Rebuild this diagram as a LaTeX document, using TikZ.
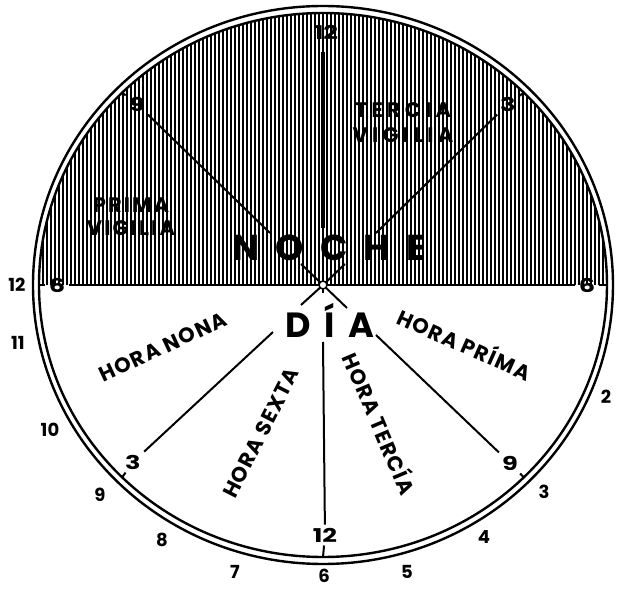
\documentclass[tikz,border=0pt]{standalone}
\usepackage{fontspec}
\setmainfont{Poppins}
\usepackage{tikz}
\usetikzlibrary{calc}

\newcommand{\widedig}[1]{\scalebox{1.35}[1]{#1}}

\begin{document}
\begin{tikzpicture}[
  x=0.5pt, y=0.5pt,
  rim/.style={line width=1.2pt},
  hatch/.style={line width=1.15pt},
  ray/.style={line width=1pt},
  bigray/.style={line width=1.7pt},
  hnum/.style={font=\fontsize{9}{9}\selectfont\bfseries, inner sep=0pt},
  dnum/.style={font=\fontsize{9.5}{9.5}\selectfont\bfseries, inner sep=1.5pt},
  hora/.style={font=\fontsize{10.5}{10.5}\selectfont\bfseries\addfontfeatures{LetterSpace=6}, inner sep=0pt},
  vigil/.style={font=\fontsize{10.5}{12.5}\selectfont\bfseries\addfontfeatures{LetterSpace=20}, align=center, inner sep=0pt},
  word/.style={font=\fontsize{16.5}{16.5}\selectfont\bfseries, inner sep=0pt},
  hub/.style={circle, draw, fill=white, line width=0.8pt, inner sep=0pt, minimum size=4pt}
]
\useasboundingbox (-323,-304) rectangle (300,285);

%% points on the inner rim
\coordinate (ctr) at (0,0);
\foreach \a in {0,45,90,135,180,225,270,315}
  \coordinate (e\a) at (\a:284 and 272);

%% night half: vertical hatching
\begin{scope}
  \clip (-284,0) arc[start angle=180, end angle=0, x radius=284, y radius=272] -- cycle;
  \foreach \hx in {-284,-280,...,284}
    \draw[hatch] (\hx,0) -- (\hx,276);
\end{scope}

%% inner hour marks
\node[dnum] (n12u) at (3,253) {\widedig{12}};
\node[dnum] (n9u) at (-186,181) {\widedig{9}};
\node[dnum] (n3u) at (185,181) {\widedig{3}};
\node[dnum] (n6l) at (-266,0) {\widedig{6}};
\node[dnum] (n6r) at (264,0) {\widedig{6}};
\node[dnum] (n3l) at (-190,-177) {\widedig{3}};
\node[dnum] (n9l) at (187,-178) {\widedig{9}};
\node[dnum] (n12b) at (2,-250) {\widedig{12}};

%% break points round the two words
\coordinate (ul1) at (-53,52);  \coordinate (ul2) at (-22,21);
\coordinate (ur1) at (53,52);   \coordinate (ur2) at (22,21);
\coordinate (tv) at (0,57);
\coordinate (ll1) at (-22,-20); \coordinate (ll2) at (-50,-47);
\coordinate (lr1) at (24,-23);  \coordinate (lr2) at (53,-50);
\coordinate (bv1) at (0,-8);    \coordinate (bv2) at (0,-57);

%% rays
\draw[bigray] ([yshift=-5pt]n12u.south -| ctr) -- (tv);
\draw[ray] (n9u) -- (ul1);
\draw[ray] (ul2) -- (ctr);
\draw[ray] (n3u) -- (ur1);
\draw[ray] (ur2) -- (ctr);
\draw[ray] (n6l) -- (n6r);
\draw[ray] (ctr) -- (ll1);
\draw[ray] (ll2) -- (n3l);
\draw[ray] (ctr) -- (lr1);
\draw[ray] (lr2) -- (n9l);
\draw[ray] (ctr) -- (bv1);
\draw[ray] (bv2) -- (n12b);

%% ticks to the rim
\draw[ray] (n9u) -- (e135);
\draw[ray] (n3u) -- (e45);
\draw[ray] (n6l) -- (e180);
\draw[ray] (n6r) -- (e0);
\draw[ray] (n3l) -- (e225);
\draw[ray] (n9l) -- (e315);
\draw[ray] (n12b) -- (e270);

%% double rim
\draw[rim] (ctr) ellipse [x radius=290, y radius=279];
\draw[rim] (ctr) ellipse [x radius=284, y radius=272];
\node[hub] (hubdot) at (ctr) {};

%% words
\node[word, font=\fontsize{18}{18}\selectfont\bfseries\addfontfeatures{LetterSpace=45}] (noche) at (6,37) {NOCHE};
\node[word, font=\fontsize{17.5}{17.5}\selectfont\bfseries\addfontfeatures{LetterSpace=40}, anchor=base] (dia) at (7,-53) {DÍA};
\node[vigil] (tercia) at (80,162) {TERCIA\\VIGILIA};
\node[vigil, font=\fontsize{10.5}{11.5}\selectfont\bfseries\addfontfeatures{LetterSpace=10}] (prima) at (-192,68) {PRIMA\\VIGILIA};
\node[hora, rotate=25] (nona) at (-160,-62) {HORA NONA};
\node[hora, rotate=-24] (hprima) at (142,-58) {HORA PRÍMA};
\node[hora, rotate=63] (sexta) at (-62,-148) {HORA SEXTA};
\node[hora, rotate=-67] (htercia) at (58,-138) {HORA TERCÍA};

%% day hours outside the rim
\foreach \t/\px/\py in {12/-306/0, 11/-305/-58, 10/-273/-145, 9/-223/-210,
    8/-161/-255, 7/-88/-287, 6/1/-291, 5/84/-287, 4/161/-252, 3/221/-207, 2/283/-112}
  \node[hnum] (h\t) at (\px,\py) {\t};
\end{tikzpicture}
\end{document}
